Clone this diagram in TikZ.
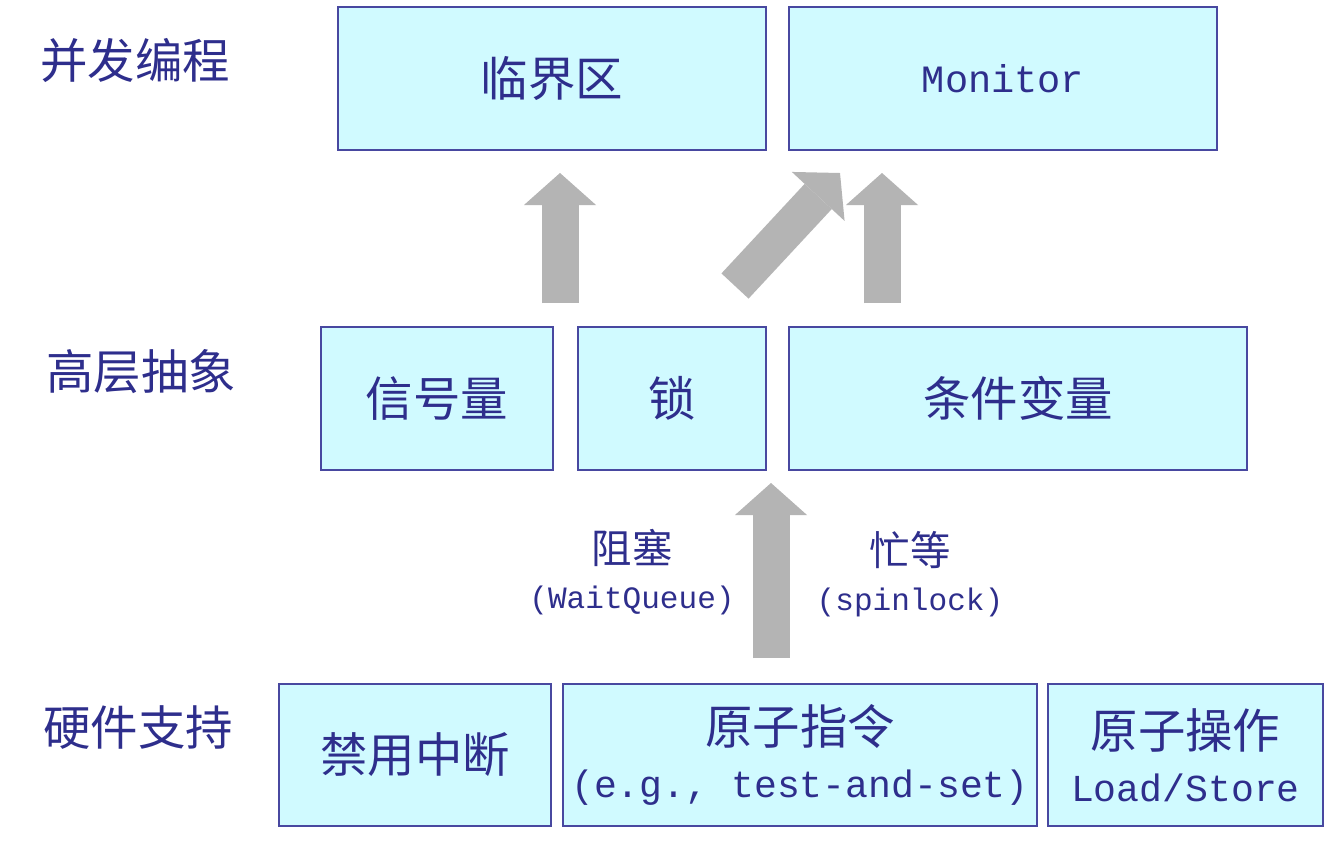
\documentclass[tikz,border=0pt]{standalone}
\usepackage{fontspec}
\setmainfont{Noto Sans CJK SC}
\setmonofont{Liberation Mono}
\usetikzlibrary{arrows.meta,positioning}
\definecolor{boxfill}{RGB}{208,250,255}
\definecolor{boxline}{RGB}{72,72,160}
\definecolor{inkblue}{RGB}{46,46,140}
\definecolor{flowgray}{RGB}{180,180,180}
\tikzset{
	block/.style = {
		draw=boxline,
		fill=boxfill,
		rectangle,
		minimum height=2.86cm,
		line width=1.2pt,
		align=center,
		text=inkblue,
		inner sep=0pt,
		font=\fontsize{27}{32}\selectfont
	},
	layer/.style = {
		text=inkblue,
		font=\fontsize{27}{32}\selectfont
	},
	note/.style = {
		text=inkblue,
		align=center,
		font=\fontsize{23}{25.5}\selectfont
	},
	flow/.style = {
		draw=flowgray,
		line width=0.74cm,
		-{Triangle[length=0.64cm, width=1.44cm, line width=0pt]}
	}
}

\begin{document}
\begin{tikzpicture}[x=0.02cm, y=-0.02cm]

	% canvas
	\fill[white] (0,0) rectangle (1335,843);
	\useasboundingbox (0,0) rectangle (1335,843);

	% --- layer titles ---
	\node [layer] (lconc) at (135,60) {并发编程};
	\node [layer] (lhigh) at (141,372) {高层抽象};
	\node [layer] (lhw) at (138,728) {硬件支持};

	% --- top row ---
	\node [block, minimum width=8.56cm] (crit) at (552,78.5) {临界区};
	\node [block, minimum width=8.56cm] (monitor) at (1003,78.5) {\fontsize{22}{26}\ttfamily Monitor};

	% --- middle row ---
	\node [block, minimum width=4.64cm] (sem) at (437,398.5) {信号量};
	\node [block, minimum width=3.76cm] (lock) at (672,398.5) {锁};
	\node [block, minimum width=9.16cm] (cond) at (1018,398.5) {条件变量};

	% --- bottom row ---
	\node [block, minimum width=5.44cm, minimum height=2.84cm] (irq) at (415,755) {禁用中断};
	\node [block, minimum width=9.48cm, minimum height=2.84cm] (atomins) at (800,755)
		{原子指令\\[-2pt]{\fontsize{21.7}{26}\ttfamily (e.g., test-and-set)}};
	\node [block, minimum width=5.5cm, minimum height=2.84cm] (atomop) at (1185.5,755)
		{原子操作\\[-2pt]{\fontsize{21.7}{26}\ttfamily Load/Store}};

	% --- labels beside the lower arrow ---
	\node [note] (block) at (632,572) {阻塞\\{\fontsize{17.7}{20}\ttfamily (WaitQueue)}};
	\node [note] (busy) at (910,574) {忙等\\{\fontsize{17.7}{20}\ttfamily (spinlock)}};

	% --- arrow ends ---
	\coordinate (s1) at (560,303);  \coordinate (t1) at (560,173);
	\coordinate (s2) at (735,286);  \coordinate (t2) at (840,173);
	\coordinate (s3) at (882,303);  \coordinate (t3) at (882,173);
	\coordinate (s4) at (771,658);  \coordinate (t4) at (771,483);

	% --- arrows ---
	\draw [flow] (s1) -- (t1);
	\draw [flow] (s2) -- (t2);
	\draw [flow] (s3) -- (t3);
	\draw [flow] (s4) -- (t4);

\end{tikzpicture}
\end{document}
